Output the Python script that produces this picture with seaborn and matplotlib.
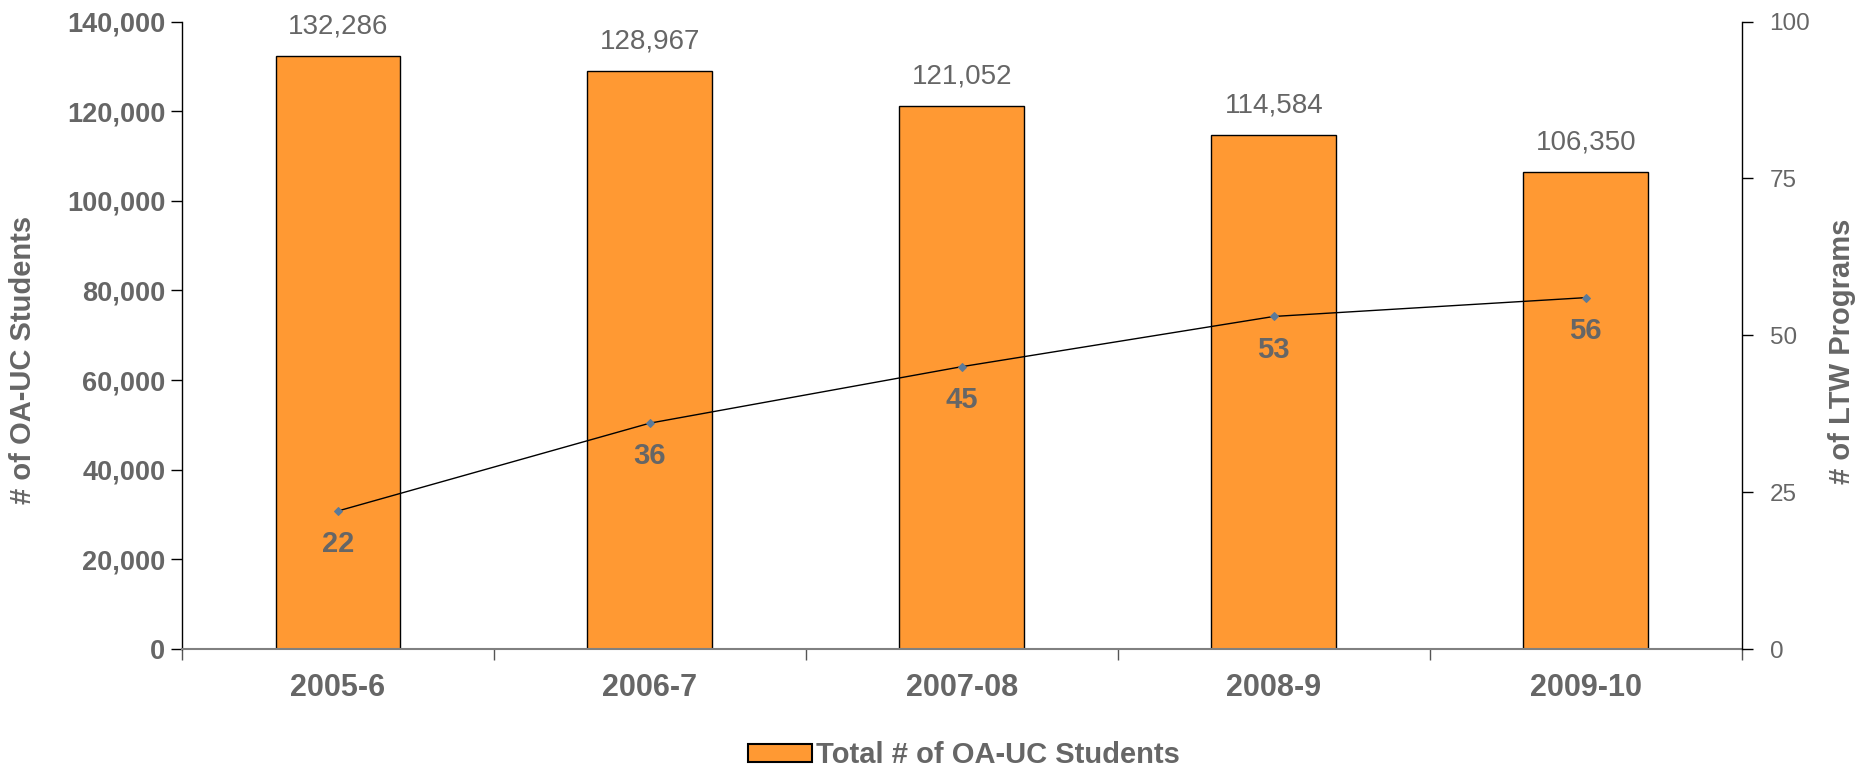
import matplotlib
matplotlib.use("Agg")
import matplotlib.pyplot as plt
import seaborn as sns
import numpy as np
import pandas as pd
from matplotlib.ticker import FuncFormatter, FixedLocator
from matplotlib.patches import Patch

years = ["2005-6", "2006-7", "2007-08", "2008-9", "2009-10"]
students = [132286, 128967, 121052, 114584, 106350]
ltw_programs = [22, 36, 45, 53, 56]

bar_label = "Total # of OA-UC Students"
left_label = "# of OA-UC Students"
right_label = "# of LTW Programs"

sns.set_style("white")
plt.rcParams['font.family'] = ['Liberation Sans', 'DejaVu Sans']

GREY = "#666666"
ORANGE = "#FF9933"

fig = plt.figure(figsize=(18.68, 7.69), dpi=100)
ax = fig.add_axes([0.0974, 0.156, 0.835, 0.816])

df = pd.DataFrame({"year": years, "students": students, "ltw": ltw_programs})
sns.barplot(data=df, x="year", y="students", color=ORANGE, width=0.4,
            edgecolor="black", linewidth=1.0, saturation=1, ax=ax)
ax.set_xlim(-0.5, len(years) - 0.5)
ax.set_ylim(0, 140000)
ax.set_yticks(np.arange(0, 140001, 20000))
ax.yaxis.set_major_formatter(FuncFormatter(lambda v, p: f"{int(v):,}"))
ax.set_xlabel("")
ax.set_ylabel(left_label, fontsize=21, fontweight="bold", color=GREY)
ax.yaxis.set_label_coords(-0.093, 0.46)

for lbl in ax.get_yticklabels():
    lbl.set_fontweight("bold")
ax.tick_params(axis="y", labelsize=19.5, labelcolor=GREY, length=8, width=1,
               color="black", direction="out", left=True, pad=4)
ax.tick_params(axis="x", which="major", length=0, labelsize=22, labelcolor=GREY, pad=17)
for lbl in ax.get_xticklabels():
    lbl.set_fontweight("bold")
ax.xaxis.set_minor_locator(FixedLocator(np.arange(-0.5, len(years), 1.0)))
ax.tick_params(axis="x", which="minor", length=8, width=1, color="#555555",
               direction="out", bottom=True)

ax.spines["top"].set_visible(False)
ax.spines["right"].set_visible(False)
ax.spines["left"].set_color("black")
ax.spines["left"].set_linewidth(1.0)
ax.spines["bottom"].set_color("#808080")
ax.spines["bottom"].set_linewidth(1.5)

for i, v in enumerate(students):
    ax.annotate(f"{v:,}", xy=(i, v), xytext=(0, 12), textcoords="offset points",
                ha="center", va="bottom", fontsize=20, color=GREY)

ax2 = ax.twinx()
sns.lineplot(x=np.arange(len(years)), y=ltw_programs, ax=ax2, color="black",
             linewidth=1.0, marker="D", markersize=4.5, markerfacecolor="#5B7A99",
             markeredgecolor="#5B7A99", sort=False)
ax2.set_ylim(0, 100)
ax2.set_yticks([0, 25, 50, 75, 100])
ax2.set_ylabel(right_label, fontsize=21, fontweight="bold", color=GREY)
ax2.yaxis.set_label_coords(1.055, 0.475)
ax2.tick_params(axis="y", labelsize=17.5, labelcolor=GREY, length=8, width=1,
                color="black", direction="out", right=True, pad=12)
for s in ["top", "left", "bottom"]:
    ax2.spines[s].set_visible(False)
ax2.spines["right"].set_color("black")
ax2.spines["right"].set_linewidth(1.0)
ax2.set_xlim(-0.5, len(years) - 0.5)

for i, v in enumerate(ltw_programs):
    ax2.annotate(f"{v}", xy=(i, v), xytext=(0, -24), textcoords="offset points",
                 ha="center", va="center", fontsize=21, fontweight="bold", color=GREY)

handles = [Patch(facecolor=ORANGE, edgecolor="black", linewidth=1.5, label=bar_label)]
leg = fig.legend(handles=handles, loc="center", bbox_to_anchor=(0.516, 0.018),
                 frameon=False, prop={"size": 21, "weight": "bold"},
                 handlelength=2.2, handleheight=0.6, handletextpad=0.12)
for t in leg.get_texts():
    t.set_color(GREY)

fig.savefig("out.png", dpi=100)
